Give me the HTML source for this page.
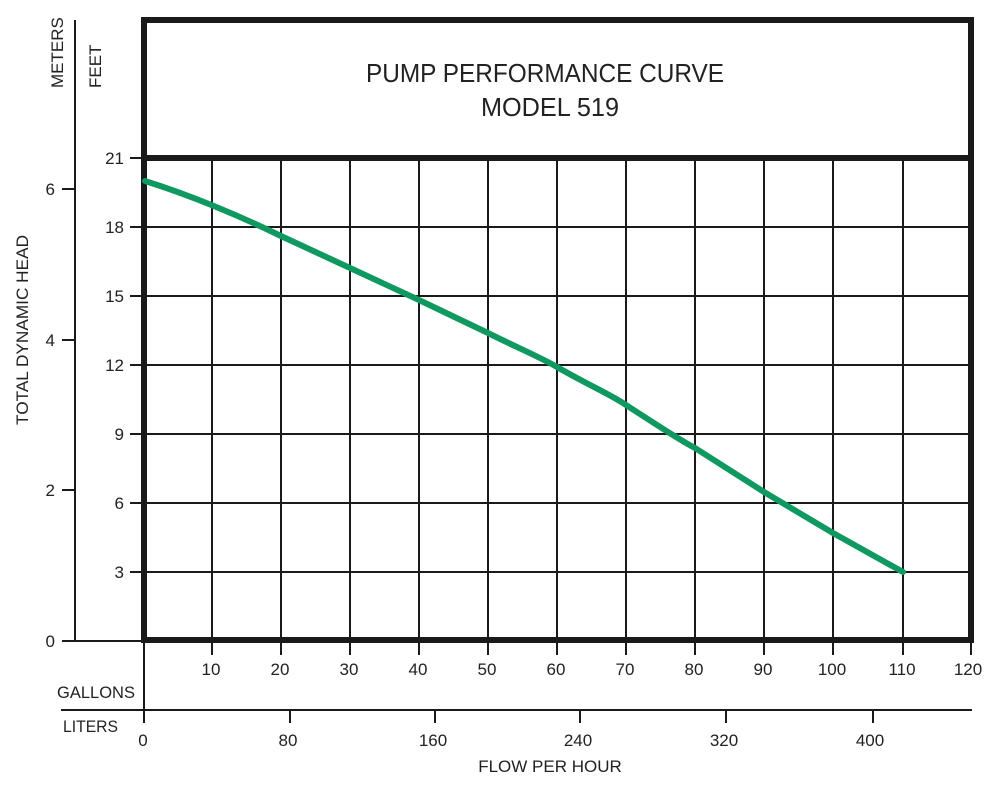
<!DOCTYPE html>
<html><head><meta charset="utf-8"><style>
body{margin:0;background:#fff}
svg{display:block}
text{font-family:"Liberation Sans",sans-serif;fill:#222}
</style></head><body>
<svg width="989" height="788" viewBox="0 0 989 788" xmlns="http://www.w3.org/2000/svg">
<g stroke="#1a1a1a" stroke-width="2">
<line x1="212" y1="158" x2="212" y2="655"/><line x1="281" y1="158" x2="281" y2="655"/>
<line x1="350" y1="158" x2="350" y2="655"/><line x1="419" y1="158" x2="419" y2="655"/>
<line x1="488" y1="158" x2="488" y2="655"/><line x1="557" y1="158" x2="557" y2="655"/>
<line x1="626" y1="158" x2="626" y2="655"/><line x1="695" y1="158" x2="695" y2="655"/>
<line x1="764" y1="158" x2="764" y2="655"/><line x1="833" y1="158" x2="833" y2="655"/>
<line x1="903" y1="158" x2="903" y2="655"/><line x1="971" y1="640" x2="971" y2="655"/>
<line x1="130" y1="227" x2="971" y2="227"/><line x1="130" y1="296" x2="971" y2="296"/>
<line x1="130" y1="365" x2="971" y2="365"/><line x1="130" y1="434" x2="971" y2="434"/>
<line x1="130" y1="503" x2="971" y2="503"/><line x1="130" y1="572" x2="971" y2="572"/>
<line x1="130" y1="158" x2="145" y2="158"/>
<line x1="75" y1="20" x2="75" y2="641"/>
<line x1="62" y1="189" x2="75" y2="189"/><line x1="62" y1="340" x2="75" y2="340"/>
<line x1="62" y1="490" x2="75" y2="490"/><line x1="62" y1="641" x2="145" y2="641"/>
<line x1="144" y1="641" x2="144" y2="723"/>
<line x1="61" y1="710" x2="972" y2="710"/>
<line x1="290" y1="710" x2="290" y2="723"/><line x1="435" y1="710" x2="435" y2="723"/>
<line x1="580" y1="710" x2="580" y2="723"/><line x1="726" y1="710" x2="726" y2="723"/>
<line x1="873" y1="710" x2="873" y2="723"/>
</g>
<rect x="144" y="20" width="827" height="620" fill="none" stroke="#1a1a1a" stroke-width="6"/>
<line x1="144" y1="158" x2="971" y2="158" stroke="#1a1a1a" stroke-width="6"/>
<path fill="none" stroke="#0f9960" stroke-width="6" stroke-linecap="round" stroke-linejoin="round"
d="M145,181 C190,195 240,216 281,236 L350,268 L419,300 L488,333 C520,349 540,357 557,367 C590,386 610,394 626,405 C660,427 680,440 695,448 L764,492 L833,533 L903,572"/>
<text x="545" y="82" font-size="26" text-anchor="middle" textLength="358" lengthAdjust="spacingAndGlyphs">PUMP PERFORMANCE CURVE</text>
<text x="550" y="116" font-size="26" text-anchor="middle" textLength="138" lengthAdjust="spacingAndGlyphs">MODEL 519</text>
<g font-size="17" text-anchor="end">
<text x="124" y="164">21</text><text x="124" y="233">18</text><text x="124" y="302">15</text>
<text x="124" y="371">12</text><text x="124" y="440">9</text><text x="124" y="509">6</text>
<text x="124" y="578">3</text>
<text x="55" y="195">6</text><text x="55" y="346">4</text><text x="55" y="496">2</text><text x="55" y="647">0</text>
</g>
<g font-size="17" text-anchor="middle">
<text x="211" y="675">10</text><text x="280" y="675">20</text><text x="349" y="675">30</text>
<text x="418" y="675">40</text><text x="487" y="675">50</text><text x="556" y="675">60</text>
<text x="625" y="675">70</text><text x="694" y="675">80</text><text x="763" y="675">90</text>
<text x="832" y="675">100</text><text x="902" y="675">110</text><text x="968" y="675">120</text>
<text x="143" y="746">0</text><text x="288" y="746">80</text><text x="433" y="746">160</text>
<text x="578" y="746">240</text><text x="724" y="746">320</text><text x="870" y="746">400</text>
<text x="550" y="772">FLOW PER HOUR</text>
</g>
<text x="57" y="698" font-size="17" textLength="78" lengthAdjust="spacingAndGlyphs">GALLONS</text>
<text x="63" y="732" font-size="17" textLength="55" lengthAdjust="spacingAndGlyphs">LITERS</text>
<text transform="translate(63,88) rotate(-90)" font-size="17">METERS</text>
<text transform="translate(101,88) rotate(-90)" font-size="17">FEET</text>
<text transform="translate(28,425) rotate(-90)" font-size="17" textLength="190" lengthAdjust="spacingAndGlyphs">TOTAL DYNAMIC HEAD</text>
</svg>
</body></html>
